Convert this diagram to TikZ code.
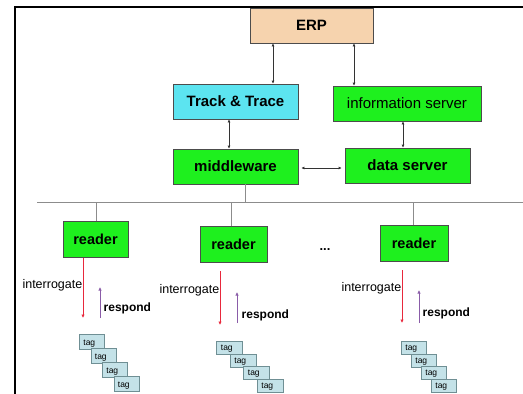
\documentclass[tikz,border=0pt]{standalone}
\usepackage{fontspec}
\setmainfont{Liberation Sans}
\usetikzlibrary{arrows.meta}
\definecolor{boxgreen}{HTML}{1EF01E}
\definecolor{erpcol}{HTML}{F6D3AE}
\definecolor{trackcol}{HTML}{5CE4F0}
\definecolor{tagcol}{HTML}{C4E2E8}
\definecolor{tagline}{HTML}{6F8F94}
\definecolor{redarr}{HTML}{E8283C}
\definecolor{purparr}{HTML}{8A5CA8}
\definecolor{busgrey}{HTML}{8C8C8C}
\tikzset{
  block/.style={draw=black!70, line width=0.6pt, minimum height=35pt, inner sep=0pt, font=\fontsize{15}{16}\selectfont\bfseries},
  gbox/.style={block, fill=boxgreen},
  conn/.style={draw=black!80, line width=0.7pt, {Latex[length=3pt,width=3pt]}-{Latex[length=3pt,width=3pt]}},
  bus/.style={draw=busgrey, line width=0.8pt},
  interr/.style={draw=redarr, line width=0.8pt, -{Latex[length=3.5pt,width=3.5pt]}},
  resp/.style={draw=purparr, line width=0.8pt, -{Latex[length=3.5pt,width=3.5pt]}},
  itext/.style={font=\fontsize{12.5}{14}\selectfont, inner sep=0.5pt},
  rtext/.style={font=\fontsize{12}{13}\selectfont\bfseries, inner sep=0.5pt},
  tagbox/.style={draw=tagline, fill=tagcol, line width=0.6pt, inner sep=0pt, anchor=north west, font=\fontsize{8.5}{9}\selectfont, text depth=0pt}
}
\begin{document}
\begin{tikzpicture}[x=1pt,y=-1pt]
\useasboundingbox (0,0) rectangle (523,394);
% frame
\draw[line width=2pt] (15,394) -- (15,7) -- (523,7);
% top boxes
\node[block, fill=erpcol, minimum width=123pt] (erp) at (311.5,25.5) {ERP};
\node[block, fill=trackcol, minimum width=125pt] (track) at (235.5,101.5) {Track \& Trace};
\node[gbox, minimum width=148pt, font=\fontsize{15}{16}\selectfont] (info) at (407,103.5) {information server};
\node[gbox, minimum width=125pt] (mid) at (235.5,166.5) {middleware};
\node[gbox, minimum width=125pt] (data) at (407.5,165.5) {data server};
% connector columns
\coordinate (c1) at (273,0);
\coordinate (c2) at (354,0);
\coordinate (c3) at (229,0);
\coordinate (c4) at (403,0);
\coordinate (c5) at (0,168);
\draw[conn] (erp.south -| c1) -- (track.north -| c1);
\draw[conn] (erp.south -| c2) -- (info.north -| c2);
\draw[conn] (track.south -| c3) -- (mid.north -| c3);
\draw[conn] (info.south -| c4) -- (data.north -| c4);
\draw[conn, shorten <=3pt, shorten >=3pt] (mid.east |- c5) -- (data.west |- c5);
% bus
\coordinate (busL) at (37,202);
\coordinate (busR) at (523,202);
\draw[bus] (busL) -- (busR);
\coordinate (cm) at (245,0);
\draw[bus] (mid.south -| cm) -- (busL -| cm);
% readers
\node[gbox, minimum width=65pt, minimum height=36pt, font=\fontsize{14.5}{16}\selectfont\bfseries] (r1) at (95.5,239) {reader};
\node[gbox, minimum width=67pt, minimum height=36pt, font=\fontsize{14.5}{16}\selectfont\bfseries] (r2) at (233.5,244) {reader};
\node[gbox, minimum width=68pt, minimum height=36pt, font=\fontsize{14.5}{16}\selectfont\bfseries] (r3) at (414,243) {reader};
\coordinate (d1) at (96,0);
\coordinate (d2) at (231,0);
\coordinate (d3) at (413,0);
\draw[bus] (busL -| d1) -- (r1.north -| d1);
\draw[bus] (busL -| d2) -- (r2.north -| d2);
\draw[bus] (busL -| d3) -- (r3.north -| d3);
\node[font=\fontsize{13}{14}\selectfont\bfseries] (dots) at (325,250) {...};
% interrogate / respond arrows
\coordinate (i1a) at (83,258);  \coordinate (i1b) at (83,318);
\coordinate (p1a) at (100,318); \coordinate (p1b) at (100,287);
\coordinate (i2a) at (220,271); \coordinate (i2b) at (220,325);
\coordinate (p2a) at (237,323); \coordinate (p2b) at (237,292);
\coordinate (i3a) at (402,270); \coordinate (i3b) at (402,323);
\coordinate (p3a) at (419,323); \coordinate (p3b) at (419,290);
\draw[interr] (i1a) -- (i1b);
\draw[resp] (p1a) -- (p1b);
\draw[interr] (i2a) -- (i2b);
\draw[resp] (p2a) -- (p2b);
\draw[interr] (i3a) -- (i3b);
\draw[resp] (p3a) -- (p3b);
\node[itext, anchor=east] (it1) at (83,285) {interrogate};
\node[itext, anchor=east] (it2) at (220,290) {interrogate};
\node[itext, anchor=east] (it3) at (402,288) {interrogate};
\node[rtext, anchor=west] (rt1) at (103,308) {respond};
\node[rtext, anchor=west] (rt2) at (241,315) {respond};
\node[rtext, anchor=west] (rt3) at (422,313) {respond};
% tags
\foreach \i in {0,1,2,3} {
  \node[tagbox, minimum width=25pt, minimum height=15pt, text height=6.5pt] (t1-\i) at ({79+11.5*\i},{334+14*\i}) {\hspace*{-5pt}tag};
  \node[tagbox, minimum width=26pt, minimum height=13pt, text height=5.5pt] (t2-\i) at ({216+13.5*\i},{341+12.5*\i}) {\hspace*{-5pt}tag};
  \node[tagbox, minimum width=25pt, minimum height=13pt, text height=5.5pt] (t3-\i) at ({401+10*\i},{341+12.5*\i}) {\hspace*{-5pt}tag};
}
\end{tikzpicture}
\end{document}
